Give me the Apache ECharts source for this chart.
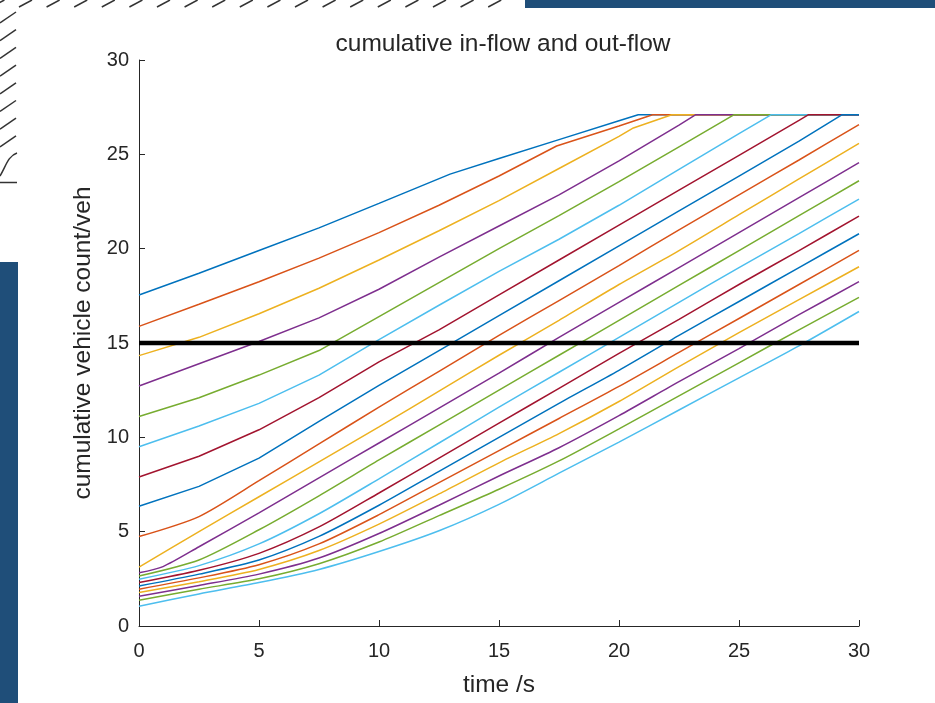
<!DOCTYPE html>
<html><head><meta charset="utf-8">
<script src="https://cdn.jsdelivr.net/npm/echarts@6/dist/echarts.min.js"></script>
<style>html,body{margin:0;padding:0;background:#fff}#c{width:935px;height:703px}</style>
</head><body><div id="c"></div>
<script>
// ---- data ----
const titleText = 'cumulative in-flow and out-flow';
const xName = 'time /s';
const yName = 'cumulative vehicle count/veh';
const xRange = [0, 30];
const yRange = [0, 30];
const tickStep = 5;
const threshold = 15;

const line01 = [[0,17.54],[2.5,18.7],[5,19.9],[7.5,21.1],[10,22.4],[12.96,23.95],[15,24.78],[17.5,25.78],[20,26.78],[20.8,27.1],[30,27.1]];
const line02 = [[0,15.88],[2.5,17.05],[5,18.25],[7.5,19.5],[10,20.85],[12.5,22.3],[15,23.85],[17.4,25.44],[20,26.5],[21.4,27.1],[30,27.1]];
const line03 = [[0,14.33],[2.5,15.3],[5,16.55],[7.5,17.9],[10,19.4],[12.5,20.95],[15,22.55],[17.5,24.25],[20,25.95],[20.6,26.4],[22.2,27.1],[30,27.1]];
const line04 = [[0,12.72],[2.5,13.9],[5,15.08],[7.5,16.33],[10,17.85],[12.5,19.55],[15,21.2],[17.5,22.85],[20,24.65],[22.5,26.55],[23.2,27.1],[30,27.1]];
const line05 = [[0,11.1],[2.5,12.1],[5,13.3],[7.5,14.6],[10,16.4],[12.5,18.2],[15,20.0],[17.5,21.75],[20,23.55],[22.5,25.4],[24.8,27.1],[30,27.1]];
const line06 = [[0,9.5],[2.5,10.6],[5,11.8],[7.5,13.3],[10,15.18],[12.5,17.0],[15,18.8],[17.5,20.5],[20,22.3],[22.5,24.2],[25,26.1],[26.35,27.1],[30,27.1]];
const line07 = [[0,7.9],[2.5,9.0],[5,10.4],[7.5,12.1],[10,14.0],[12.5,15.7],[15,17.55],[17.5,19.4],[20,21.25],[22.5,23.1],[25,24.95],[27.5,26.8],[27.9,27.1],[30,27.1]];
const line08 = [[0,6.35],[2.5,7.4],[5,8.9],[7.5,10.85],[10,12.75],[12.5,14.6],[15,16.45],[17.5,18.3],[20,20.15],[22.5,22.0],[25,23.85],[27.5,25.7],[29.3,27.1],[30,27.1]];
const line09 = [[0,4.74],[2.5,5.8],[5,7.7],[7.5,9.65],[10,11.6],[12.5,13.5],[15,15.4],[17.5,17.25],[20,19.1],[22.5,21.0],[25,22.85],[27.5,24.7],[30,26.58]];
const line10 = [[0,3.12],[2.5,5.0],[5,6.85],[7.5,8.7],[10,10.55],[12.5,12.45],[15,14.35],[17.5,16.2],[20,18.1],[22.5,19.9],[25,21.8],[27.5,23.7],[30,25.58]];
const line11 = [[0,2.82],[1,3.15],[2.5,4.2],[5,6.0],[7.5,7.85],[10,9.7],[12.5,11.55],[15,13.4],[17.5,15.3],[20,17.15],[22.5,19.0],[25,20.85],[27.5,22.7],[30,24.56]];
const line12 = [[0,2.65],[2.5,3.5],[5,5.1],[7.5,6.9],[10,8.8],[12.5,10.65],[15,12.5],[17.5,14.35],[20,16.2],[22.5,18.05],[25,19.9],[27.5,21.75],[30,23.6]];
const line13 = [[0,2.48],[2.5,3.2],[5,4.35],[7.5,5.95],[10,7.8],[12.5,9.7],[15,11.6],[17.5,13.45],[20,15.3],[22.5,17.15],[25,19.0],[27.5,20.8],[30,22.63]];
const line14 = [[0,2.3],[2.5,2.95],[5,3.85],[7.5,5.25],[10,7.05],[12.5,8.9],[15,10.75],[17.5,12.6],[20,14.45],[22.5,16.25],[25,18.1],[27.5,19.9],[30,21.72]];
const line15 = [[0,2.12],[2.5,2.75],[5,3.5],[7.5,4.75],[10,6.4],[12.5,8.2],[15,10.0],[17.5,11.8],[20,13.55],[22.5,15.4],[25,17.2],[27.5,19.0],[30,20.79]];
const line16 = [[0,1.95],[2.5,2.55],[5,3.25],[7.5,4.35],[10,5.9],[12.5,7.6],[15,9.3],[17.5,11.0],[20,12.7],[22.5,14.5],[25,16.3],[27.5,18.1],[30,19.91]];
const line17 = [[0,1.78],[2.5,2.35],[5,3.0],[7.5,4.0],[10,5.4],[12.5,7.0],[15,8.65],[17.5,10.2],[20,11.9],[22.5,13.75],[25,15.55],[27.5,17.3],[30,19.04]];
const line18 = [[0,1.58],[2.5,2.15],[5,2.75],[7.5,3.6],[10,4.9],[12.5,6.4],[15,7.95],[17.5,9.45],[20,11.15],[22.5,12.95],[25,14.7],[27.5,16.5],[30,18.25]];
const line19 = [[0,1.37],[2.5,1.95],[5,2.5],[7.5,3.3],[10,4.45],[12.5,5.85],[15,7.25],[17.5,8.75],[20,10.45],[22.5,12.2],[25,13.95],[27.5,15.7],[30,17.42]];
const line20 = [[0,1.05],[2.5,1.7],[5,2.3],[7.5,3.0],[10,3.95],[12.5,5.05],[15,6.45],[17.5,8.1],[20,9.75],[22.5,11.45],[25,13.15],[27.5,14.85],[30,16.67]];

const allLines = [line01,line02,line03,line04,line05,line06,line07,line08,line09,line10,
                  line11,line12,line13,line14,line15,line16,line17,line18,line19,line20];
const thresholdLine = [[xRange[0], threshold], [xRange[1], threshold]];

// ---- styling ----
const palette = ['#0072BD','#D95319','#EDB120','#7E2F8E','#77AC30','#4DBEEE','#A2142F'];
const FONT = '"Liberation Sans", Arial, Helvetica, sans-serif';
const AX = '#262626';
const NAVY = '#1f4e79';

const series = allLines.map((d, i) => ({
  type: 'line', data: d, showSymbol: false, symbol: 'none', silent: true,
  smooth: i < 8 ? false : 0.25,
  lineStyle: { color: palette[i % palette.length], width: 1.5 },
  itemStyle: { color: palette[i % palette.length] }, z: 2
}));
series.push({
  type: 'line', data: thresholdLine, showSymbol: false, symbol: 'none', silent: true,
  lineStyle: { color: '#000', width: 4.5 }, z: 3
});

// decorations (background ornaments outside the chart)
const deco = [];
deco.push({ type: 'rect', shape: { x: 525, y: 0, width: 410, height: 8 }, style: { fill: NAVY } });
deco.push({ type: 'rect', shape: { x: 0, y: 262, width: 18, height: 441 }, style: { fill: NAVY } });
for (let k = -1; k <= 17; k++) {
  const x0 = 19 + 27.6 * k;
  deco.push({ type: 'line', shape: { x1: x0, y1: 7, x2: x0 + 13, y2: 0 }, style: { stroke: '#333', lineWidth: 1.5 } });
}
for (let k = 0; k < 8; k++) {
  const y0 = 23 + 17.7 * k;
  deco.push({ type: 'line', shape: { x1: 0, y1: y0, x2: 16, y2: y0 - 11 }, style: { stroke: '#333', lineWidth: 1.5 } });
}
deco.push({ type: 'bezierCurve', shape: { x1: 0, y1: 176, cpx1: 6, cpy1: 166, cpx2: 8, cpy2: 156, x2: 17, y2: 153 }, style: { stroke: '#333', lineWidth: 1.5, fill: null } });
deco.push({ type: 'line', shape: { x1: 0, y1: 182.5, x2: 17, y2: 182.5 }, style: { stroke: '#333', lineWidth: 1.5 } });

const axisCommon = {
  type: 'value', interval: tickStep,
  axisLine: { show: true, lineStyle: { color: AX, width: 1 } },
  axisTick: { show: true, inside: true, length: 6, lineStyle: { color: AX, width: 1 } },
  splitLine: { show: false },
  nameLocation: 'middle',
  nameTextStyle: { color: AX, fontSize: 24.5, fontFamily: FONT }
};

const option = {
  backgroundColor: '#fff',
  animation: false,
  title: {
    text: titleText, left: 498, top: 27, textAlign: 'center',
    textStyle: { color: AX, fontSize: 24.5, fontWeight: 'normal', fontFamily: FONT }
  },
  grid: { left: 139, top: 60, right: 76, bottom: 73, containLabel: false },
  xAxis: Object.assign({}, axisCommon, {
    min: xRange[0], max: xRange[1], name: xName, nameGap: 47,
    axisLabel: { color: AX, fontSize: 20, fontFamily: FONT, margin: 15 }
  }),
  yAxis: Object.assign({}, axisCommon, {
    min: yRange[0], max: yRange[1], name: yName, nameGap: 37,
    axisLabel: { color: AX, fontSize: 20, fontFamily: FONT, margin: 10 }
  }),
  graphic: deco,
  series: series
};

const chart = echarts.init(document.getElementById('c'), null, { renderer: 'canvas' });
chart.setOption(option);
</script>
</body></html>
